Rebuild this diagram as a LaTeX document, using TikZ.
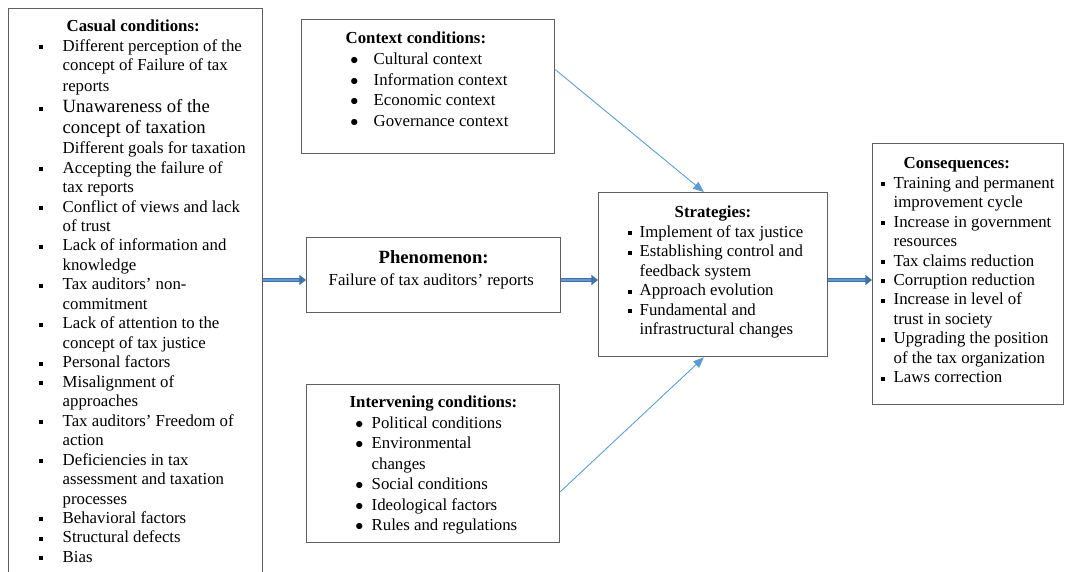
\documentclass[tikz,border=0pt]{standalone}
\usepackage{fontspec}
\setmainfont{Liberation Serif}
\usetikzlibrary{arrows.meta}

\definecolor{boxgray}{RGB}{95,95,95}
\definecolor{arrowblue}{RGB}{91,155,213}
\definecolor{arrowdark}{RGB}{65,113,170}

\newcommand{\bodyfont}{\fontsize{12.6pt}{14.6pt}\selectfont}
\newcommand{\sqbul}{\raisebox{1.5pt}{\rule{3pt}{3pt}}}
\newcommand{\rdbul}{$\bullet$}
% one line of a box: offset, text
\newcommand{\tline}[2]{\par\noindent\hspace*{#1}#2}
% bulleted line: bullet offset, bullet, text offset, text
\newcommand{\bline}[4]{\par\noindent\hspace*{#1}\rlap{#2}\hspace*{\dimexpr#3-#1\relax}#4}

\begin{document}
\begin{tikzpicture}[x=0.75pt,y=-0.75pt,
    panel/.style={draw=boxgray,line width=1pt,inner sep=0pt,anchor=north west,font=\bodyfont},
    thin arrow/.style={draw=arrowblue,line width=0.65pt,-{Triangle[length=8pt,width=6.5pt]}},
    thick arrow/.style={draw=arrowdark,line width=3.2pt,-{Triangle[length=5pt,width=7.5pt]},
        postaction={draw=arrowblue,line width=1pt,-,shorten >=5.5pt}}]
    \useasboundingbox (0,0) rectangle (1067,571);
    \fill[white] (0,0) rectangle (1067,571);

    %causal box
    \node[panel] (cas) at (8,8) {\parbox[t][426pt][t]{190.5pt}{%
        \def\bi#1{\bline{22.5pt}{\sqbul}{40.5pt}{#1}}\def\ci#1{\tline{40.5pt}{#1}}%
        \tline{43.5pt}{\rule{0pt}{17.25pt}\textbf{Casual conditions:}}
        \bi{Different perception of the}
        \ci{concept of Failure of tax}
        \ci{reports}
        {\fontsize{14pt}{15.75pt}\selectfont\bi{Unawareness of the}\ci{concept of taxation}\par}
        {\fontsize{12.6pt}{15pt}\selectfont\ci{Different goals for taxation}\par}
        \bi{Accepting the failure of}
        \ci{tax reports}
        \bi{Conflict of views and lack}
        \ci{of trust}
        \bi{Lack of information and}
        \ci{knowledge}
        \bi{Tax auditors' non-}
        \ci{commitment}
        \bi{Lack of attention to the}
        \ci{concept of tax justice}
        \bi{Personal factors}
        \bi{Misalignment of}
        \ci{approaches}
        \bi{Tax auditors' Freedom of}
        \ci{action}
        \bi{Deficiencies in tax}
        \ci{assessment and taxation}
        \ci{processes}
        \bi{Behavioral factors}
        \bi{Structural defects}
        \bi{Bias}}};

    %context box
    \node[panel] (ctx) at (301,19) {\parbox[t][100.5pt][t]{189.75pt}{%
        \fontsize{12.6pt}{15.5pt}\selectfont
        \def\bi#1{\bline{36.5pt}{\rdbul}{54pt}{#1}}%
        \tline{33pt}{\rule{0pt}{18pt}\textbf{Context conditions:}}
        \bi{Cultural context}
        \bi{Information context}
        \bi{Economic context}
        \bi{Governance context}}};

    %phenomenon box
    \node[panel] (phe) at (306,237) {\parbox[t][56.25pt][t]{190.5pt}{%
        \tline{54pt}{\rule{0pt}{19.5pt}{\fontsize{14pt}{16.5pt}\selectfont\textbf{Phenomenon:}}}
        {\fontsize{12.6pt}{16.5pt}\selectfont\tline{16.5pt}{Failure of tax auditors' reports}\par}}};

    %intervening box
    \node[panel] (itv) at (306,384) {\parbox[t][118.5pt][t]{189.75pt}{%
        \fontsize{12.6pt}{15.4pt}\selectfont
        \def\bi#1{\bline{36.5pt}{\rdbul}{48.75pt}{#1}}\def\ci#1{\tline{48.75pt}{#1}}%
        \tline{32.25pt}{\rule{0pt}{17.25pt}\textbf{Intervening conditions:}}
        \bi{Political conditions}
        \bi{Environmental}
        \ci{changes}
        \bi{Social conditions}
        \bi{Ideological factors}
        \bi{Rules and regulations}}};

    %strategies box
    \node[panel] (str) at (598,192) {\parbox[t][123pt][t]{171.75pt}{%
        \def\bi#1{\bline{21.75pt}{\sqbul}{30.75pt}{#1}}\def\ci#1{\tline{30.75pt}{#1}}%
        \tline{57pt}{\rule{0pt}{18.75pt}\textbf{Strategies:}}
        \bi{Implement of tax justice}
        \bi{Establishing control and}
        \ci{feedback system}
        \bi{Approach evolution}
        \bi{Fundamental and}
        \ci{infrastructural changes}}};

    %consequences box
    \node[panel] (con) at (872,143) {\parbox[t][195.75pt][t]{143.25pt}{%
        \def\bi#1{\bline{6.2pt}{\sqbul}{15.75pt}{#1}}\def\ci#1{\tline{15.75pt}{#1}}%
        \tline{23.25pt}{\rule{0pt}{18.75pt}\textbf{Consequences:}}
        \bi{Training and permanent}
        \ci{improvement cycle}
        \bi{Increase in government}
        \ci{resources}
        \bi{Tax claims reduction}
        \bi{Corruption reduction}
        \bi{Increase in level of}
        \ci{trust in society}
        \bi{Upgrading the position}
        \ci{of the tax organization}
        \bi{Laws correction}}};

    %main flow
    \coordinate (axis) at (0,280);
    \draw[thick arrow] (cas.east |- axis) -- (phe.west |- axis);
    \draw[thick arrow] (phe.east |- axis) -- (str.west |- axis);
    \draw[thick arrow] (str.east |- axis) -- (con.west |- axis);

    %conditions into strategies
    \draw[thin arrow] ([yshift=12.75pt]ctx.east) -- ([xshift=-7pt]str.north);
    \draw[thin arrow] ([yshift=-21pt]itv.east) -- ([xshift=-7pt]str.south);
\end{tikzpicture}
\end{document}
